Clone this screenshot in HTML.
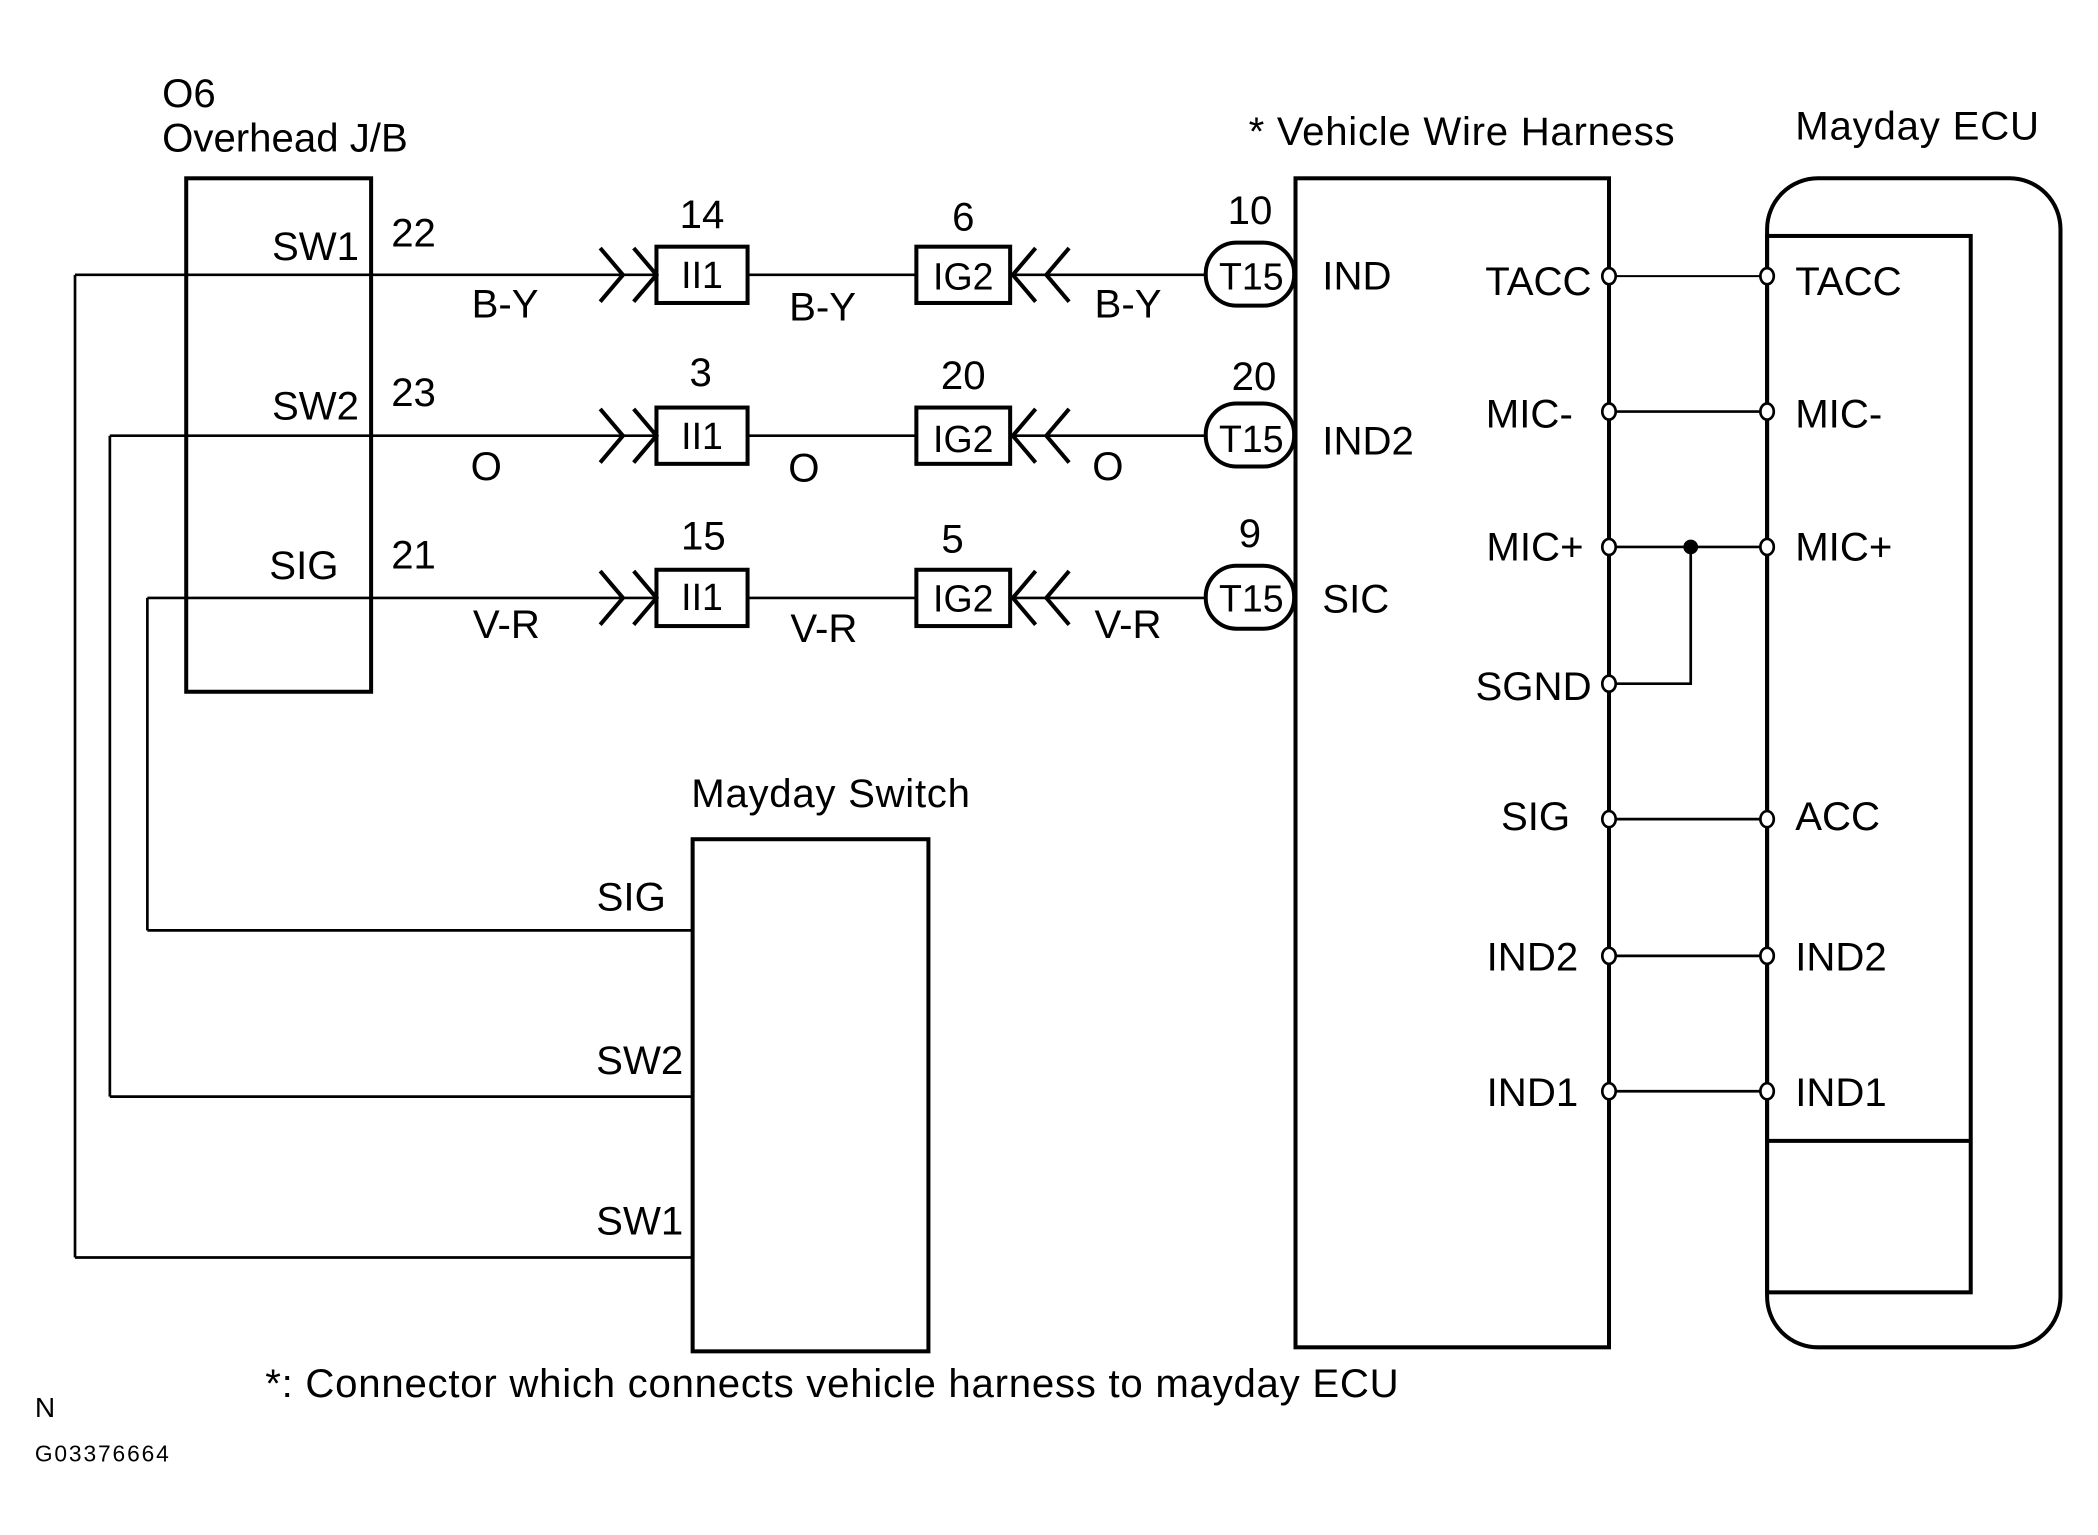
<!DOCTYPE html>
<html><head><meta charset="utf-8"><style>
html,body{margin:0;padding:0;background:#fff;}
svg{display:block;}
text{font-family:"Liberation Sans",Arial,sans-serif;fill:#000;}
</style></head><body>
<svg width="2098" height="1535" viewBox="0 0 1566 1145" preserveAspectRatio="none" xmlns="http://www.w3.org/2000/svg" font-size="30">
<g fill="none" stroke="#000" stroke-width="2">
<rect x="139" y="133" width="138" height="383" stroke-width="3"/>
<line x1="56" y1="205" x2="490" y2="205"/>
<line x1="82" y1="325" x2="490" y2="325"/>
<line x1="110" y1="446" x2="490" y2="446"/>
<line x1="56" y1="205" x2="56" y2="938"/>
<line x1="82" y1="325" x2="82" y2="818"/>
<line x1="110" y1="446" x2="110" y2="694"/>
<line x1="56" y1="938" x2="517" y2="938"/>
<line x1="82" y1="818" x2="517" y2="818"/>
<line x1="110" y1="694" x2="517" y2="694"/>
<rect x="517" y="626" width="176" height="382" stroke-width="3"/>
<g>
<polyline points="448,185 465,205 448,225" stroke-width="3"/>
<polyline points="473,185 490,205 473,225" stroke-width="3"/>
<rect x="490" y="184" width="68" height="42" stroke-width="3"/>
<line x1="558" y1="205" x2="684" y2="205"/>
<rect x="684" y="184" width="70" height="42" stroke-width="3"/>
<polyline points="773,185 756,205 773,225" stroke-width="3"/>
<polyline points="798,185 781,205 798,225" stroke-width="3"/>
<line x1="756" y1="205" x2="900" y2="205"/>
<rect x="900" y="181" width="66" height="47" rx="23" stroke-width="3"/>
</g>
<g transform="translate(0,120)">
<polyline points="448,185 465,205 448,225" stroke-width="3"/>
<polyline points="473,185 490,205 473,225" stroke-width="3"/>
<rect x="490" y="184" width="68" height="42" stroke-width="3"/>
<line x1="558" y1="205" x2="684" y2="205"/>
<rect x="684" y="184" width="70" height="42" stroke-width="3"/>
<polyline points="773,185 756,205 773,225" stroke-width="3"/>
<polyline points="798,185 781,205 798,225" stroke-width="3"/>
<line x1="756" y1="205" x2="900" y2="205"/>
<rect x="900" y="181" width="66" height="47" rx="23" stroke-width="3"/>
</g>
<g transform="translate(0,241)">
<polyline points="448,185 465,205 448,225" stroke-width="3"/>
<polyline points="473,185 490,205 473,225" stroke-width="3"/>
<rect x="490" y="184" width="68" height="42" stroke-width="3"/>
<line x1="558" y1="205" x2="684" y2="205"/>
<rect x="684" y="184" width="70" height="42" stroke-width="3"/>
<polyline points="773,185 756,205 773,225" stroke-width="3"/>
<polyline points="798,185 781,205 798,225" stroke-width="3"/>
<line x1="756" y1="205" x2="900" y2="205"/>
<rect x="900" y="181" width="66" height="47" rx="23" stroke-width="3"/>
</g>
<rect x="967" y="133" width="234" height="872" stroke-width="3"/>
<rect x="1319" y="133" width="219" height="872" rx="38" stroke-width="3"/>
<rect x="1319" y="176" width="152" height="788" stroke-width="3"/>
<line x1="1319" y1="851" x2="1471" y2="851" stroke-width="3"/>
<line x1="1201" y1="206" x2="1319" y2="206" stroke-width="1.5"/>
<line x1="1201" y1="307" x2="1319" y2="307"/>
<line x1="1201" y1="408" x2="1319" y2="408"/>
<polyline points="1201,510 1262,510 1262,408"/>
<line x1="1201" y1="611" x2="1319" y2="611"/>
<line x1="1201" y1="713" x2="1319" y2="713"/>
<line x1="1201" y1="814" x2="1319" y2="814"/>
<g fill="#fff" stroke-width="2">
<ellipse cx="1201" cy="206" rx="5" ry="6"/><ellipse cx="1319" cy="206" rx="5" ry="6"/>
<ellipse cx="1201" cy="307" rx="5" ry="6"/><ellipse cx="1319" cy="307" rx="5" ry="6"/>
<ellipse cx="1201" cy="408" rx="5" ry="6"/><ellipse cx="1319" cy="408" rx="5" ry="6"/>
<ellipse cx="1201" cy="510" rx="5" ry="6"/>
<ellipse cx="1201" cy="611" rx="5" ry="6"/><ellipse cx="1319" cy="611" rx="5" ry="6"/>
<ellipse cx="1201" cy="713" rx="5" ry="6"/><ellipse cx="1319" cy="713" rx="5" ry="6"/>
<ellipse cx="1201" cy="814" rx="5" ry="6"/><ellipse cx="1319" cy="814" rx="5" ry="6"/>
</g>
<circle cx="1262" cy="408" r="4.5" fill="#000"/>
</g>
<g>
<text x="121" y="80">O6</text>
<text x="121" y="113">Overhead J/B</text>
<text x="268" y="194" text-anchor="end">SW1</text>
<text x="268" y="313" text-anchor="end">SW2</text>
<text x="201" y="432">SIG</text>
<text x="292" y="184">22</text>
<text x="292" y="303">23</text>
<text x="292" y="424">21</text>
<g text-anchor="middle">
<text x="524" y="170">14</text><text x="719" y="172">6</text><text x="933" y="167">10</text>
<text x="523" y="288">3</text><text x="719" y="290">20</text><text x="936" y="291">20</text>
<text x="525" y="410">15</text><text x="711" y="412">5</text><text x="933" y="408">9</text>
<text x="377" y="237">B-Y</text><text x="614" y="239">B-Y</text><text x="842" y="237">B-Y</text>
<text x="363" y="358">O</text><text x="600" y="359">O</text><text x="827" y="358">O</text>
<text x="378" y="476">V-R</text><text x="615" y="479">V-R</text><text x="842" y="476">V-R</text>
<text x="524" y="215" font-size="28">II1</text><text x="719" y="216" font-size="28">IG2</text><text x="934" y="216" font-size="28">T15</text>
<text x="524" y="335" font-size="28">II1</text><text x="719" y="337" font-size="28">IG2</text><text x="934" y="337" font-size="28">T15</text>
<text x="524" y="455" font-size="28">II1</text><text x="719" y="456" font-size="28">IG2</text><text x="934" y="456" font-size="28">T15</text>
</g>
<text x="932" y="108" textLength="318">* Vehicle Wire Harness</text>
<text x="1340" y="104" textLength="182">Mayday ECU</text>
<text x="987" y="216">IND</text>
<text x="987" y="339">IND2</text>
<text x="987" y="457">SIC</text>
<g text-anchor="end">
<text x="1188" y="220">TACC</text>
<text x="1174" y="319">MIC-</text>
<text x="1182" y="418">MIC+</text>
<text x="1188" y="522">SGND</text>
<text x="1172" y="619">SIG</text>
<text x="1178" y="724">IND2</text>
<text x="1178" y="825">IND1</text>
<text x="497" y="679">SIG</text>
<text x="510" y="801">SW2</text>
<text x="510" y="921">SW1</text>
</g>
<text x="1340" y="220">TACC</text>
<text x="1340" y="319">MIC-</text>
<text x="1340" y="418">MIC+</text>
<text x="1340" y="619">ACC</text>
<text x="1340" y="724">IND2</text>
<text x="1340" y="825">IND1</text>
<text x="516" y="602" textLength="208">Mayday Switch</text>
<text x="198" y="1042" textLength="846">*: Connector which connects vehicle harness to mayday ECU</text>
<text x="26" y="1057" font-size="21">N</text>
<text x="26" y="1090" font-size="17" textLength="100">G03376664</text>
</g>
</svg>
</body></html>
